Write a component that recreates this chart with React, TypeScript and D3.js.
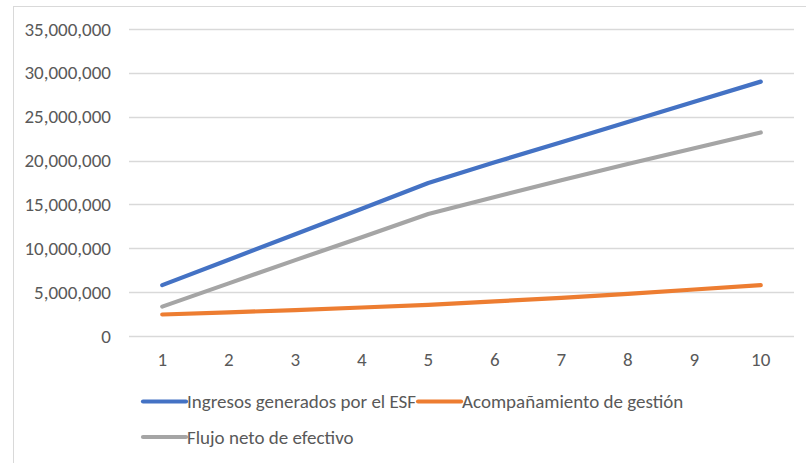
import React, { useEffect, useRef } from "react";
import * as d3 from "d3";

const categories = ["1", "2", "3", "4", "5", "6", "7", "8", "9", "10"];
const ingresos = [5800000, 8700000, 11600000, 14500000, 17450000, 19800000, 22100000, 24400000, 26700000, 29000000];
const acompanamiento = [2450000, 2700000, 2950000, 3250000, 3550000, 3950000, 4350000, 4800000, 5300000, 5800000];
const flujo = [3350000, 6000000, 8650000, 11250000, 13900000, 15850000, 17750000, 19600000, 21400000, 23200000];
const yTicks = [0, 5000000, 10000000, 15000000, 20000000, 25000000, 30000000, 35000000];

const seriesNames = ["Ingresos generados por el ESF", "Acompañamiento de gestión", "Flujo neto de efectivo"];
const seriesColors = ["#4472C4", "#ED7D31", "#A5A5A5"];

const W = 806;
const H = 463;
const FONT = "Calibri, Carlito, 'Open Sans', sans-serif";
const FS = 19;

export default function App() {
  const ref = useRef<SVGSVGElement | null>(null);

  useEffect(() => {
    const svg = d3.select(ref.current);
    svg.selectAll("*").remove();

    const plot = { left: 129, right: 794, top: 29, bottom: 336 };

    svg.append("rect")
      .attr("x", 13.5).attr("y", 6.5)
      .attr("width", 800).attr("height", 480)
      .attr("fill", "#fff").attr("stroke", "#d9d9d9").attr("stroke-width", 1);

    const x = d3.scaleBand<string>().domain(categories).range([plot.left, plot.right]);
    const y = d3.scaleLinear().domain([0, 35000000]).range([plot.bottom, plot.top]);
    const fmt = d3.format(",");

    const grid = svg.append("g");
    grid.selectAll("line").data(yTicks).join("line")
      .attr("x1", plot.left).attr("x2", plot.right)
      .attr("y1", (d) => Math.round(y(d)) + 0.5).attr("y2", (d) => Math.round(y(d)) + 0.5)
      .attr("stroke", "#d9d9d9").attr("stroke-width", 1.3);

    svg.append("g").selectAll("text").data(yTicks).join("text")
      .attr("x", 111).attr("y", (d) => y(d) + 6.5)
      .attr("text-anchor", "end")
      .attr("font-family", FONT).attr("font-size", FS).attr("fill", "#595959")
      .text((d) => fmt(d));

    svg.append("g").selectAll("text").data(categories).join("text")
      .attr("x", (d) => (x(d) as number) + x.bandwidth() / 2).attr("y", 366)
      .attr("text-anchor", "middle")
      .attr("font-family", FONT).attr("font-size", FS).attr("fill", "#595959")
      .text((d) => d);

    const allSeries = [ingresos, acompanamiento, flujo];
    const line = d3.line<number>()
      .x((_, i) => (x(categories[i]) as number) + x.bandwidth() / 2)
      .y((d) => y(d));

    allSeries.forEach((s, k) => {
      svg.append("path")
        .attr("d", line(s) as string)
        .attr("fill", "none")
        .attr("stroke", seriesColors[k])
        .attr("stroke-width", 4.2)
        .attr("stroke-linecap", "round")
        .attr("stroke-linejoin", "round");
    });

    // legend
    const legend = svg.append("g");
    const rows = [
      { y: 401.5, items: [0, 1] },
      { y: 437, items: [2] },
    ];
    rows.forEach((row) => {
      let cx = 143;
      row.items.forEach((k) => {
        legend.append("line")
          .attr("x1", cx).attr("x2", cx + 43)
          .attr("y1", row.y).attr("y2", row.y)
          .attr("stroke", seriesColors[k]).attr("stroke-width", 4.2)
          .attr("stroke-linecap", "round");
        const t = legend.append("text")
          .attr("x", cx + 44).attr("y", row.y + 6.5)
          .attr("font-family", FONT).attr("font-size", FS).attr("fill", "#595959")
          .text(seriesNames[k]);
        const w = (t.node() as SVGTextElement).getComputedTextLength();
        cx = cx + 44 + w + 2;
      });
    });
  }, []);

  return (
    <svg
      ref={ref}
      width={W}
      height={H}
      style={{ position: "absolute", left: 0, top: 0, background: "#fff" }}
    />
  );
}
